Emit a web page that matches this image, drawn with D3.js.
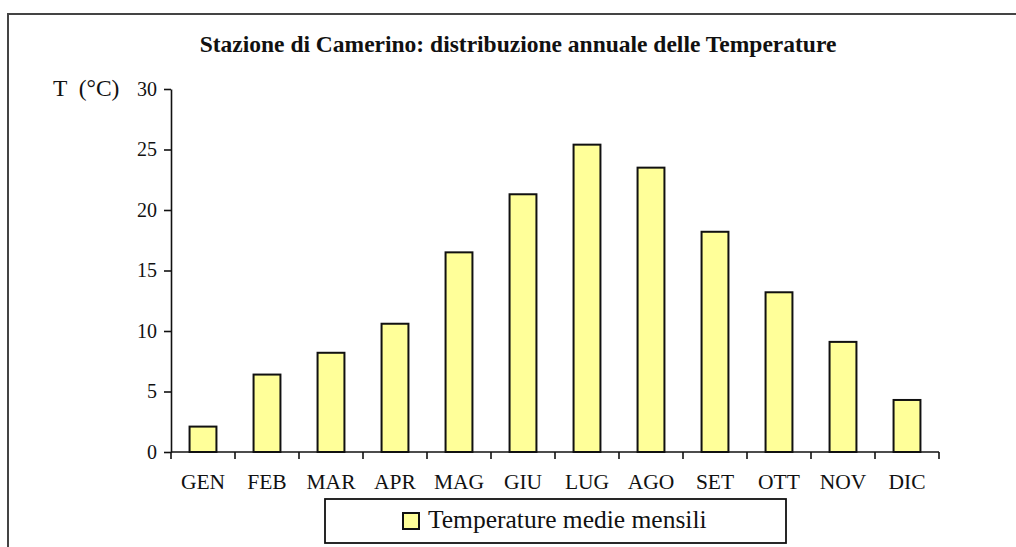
<!DOCTYPE html>
<html>
<head>
  <meta charset="utf-8">
  <script src="https://d3js.org/d3.v7.min.js"></script>
  <style>
    body { margin: 0; background: #fff; }
    text { font-family: "Liberation Serif", "Times New Roman", serif; fill: #111; }
    .title { font-size: 23.5px; font-weight: bold; }
    .axis path, .axis line { stroke: #111; stroke-width: 1.6px; }
    .axis text { font-family: "Liberation Serif", serif; fill: #111; }
    .bar { fill: #ffff99; stroke: #111; stroke-width: 2px; }
  </style>
</head>
<body>
  <script>

    // Monthly data
    var months = ["GEN", "FEB", "MAR", "APR", "MAG", "GIU", "LUG", "AGO", "SET", "OTT", "NOV", "DIC"];
    var temps = [2.1, 6.4, 8.2, 10.6, 16.5, 21.3, 25.4, 23.5, 18.2, 13.2, 9.1, 4.3];
    var yTicks = [0, 5, 10, 15, 20, 25, 30];
    var seriesName = "Temperature medie mensili";
    var titleText = "Stazione di Camerino: distribuzione annuale delle Temperature";

    var margin = {top: 89, left: 171},
        width = 768,
        height = 363;

    var svg = d3.select("body").append("svg")
        .attr("width", 1016)
        .attr("height", 547);

    // outer frame (runs off the right and bottom edge)
    svg.append("rect")
        .attr("x", 8).attr("y", 14)
        .attr("width", 1100).attr("height", 600)
        .attr("fill", "none")
        .attr("stroke", "#444")
        .attr("stroke-width", 2);

    svg.append("text")
        .attr("class", "title")
        .attr("x", 518).attr("y", 52)
        .attr("text-anchor", "middle")
        .text(titleText);

    var g = svg.append("g")
        .attr("transform", "translate(" + margin.left + "," + margin.top + ")");

    var x = d3.scaleBand()
        .domain(months)
        .range([0, width])
        .paddingInner(0.58)
        .paddingOuter(0.29);

    var y = d3.scaleLinear()
        .domain([0, 30])
        .range([height, 0]);

    // bars
    g.selectAll(".bar")
        .data(months)
      .enter().append("rect")
        .attr("class", "bar")
        .attr("x", function(d) { return x(d); })
        .attr("y", function(d, i) { return y(temps[i]); })
        .attr("width", x.bandwidth())
        .attr("height", function(d, i) { return height - y(temps[i]); });

    // y axis
    var yAxis = g.append("g")
        .attr("class", "axis")
        .call(d3.axisLeft(y).tickValues(yTicks).tickSize(7).tickPadding(7).tickSizeOuter(0));
    yAxis.selectAll("text").style("font-size", "20px");

    // x axis, ticks sit between the categories
    var xAxis = g.append("g")
        .attr("class", "axis")
        .attr("transform", "translate(0," + height + ")");
    xAxis.append("line")
        .attr("x1", 0).attr("x2", width);
    var step = x.step();
    xAxis.selectAll(".sep")
        .data(d3.range(months.length + 1))
      .enter().append("line")
        .attr("x1", function(i) { return i * step; })
        .attr("x2", function(i) { return i * step; })
        .attr("y1", 0).attr("y2", 7);
    xAxis.selectAll(".lbl")
        .data(months)
      .enter().append("text")
        .attr("x", function(d) { return x(d) + x.bandwidth() / 2; })
        .attr("y", 37)
        .attr("text-anchor", "middle")
        .style("font-size", "21.5px")
        .text(function(d) { return d; });

    // unit label
    svg.append("text")
        .attr("x", 53).attr("y", 96)
        .style("font-size", "23.5px")
        .style("white-space", "pre")
        .text("T  (\u00b0C)");

    // legend
    var leg = svg.append("g");
    leg.append("rect")
        .attr("x", 325).attr("y", 499)
        .attr("width", 461).attr("height", 44)
        .attr("fill", "#fff")
        .attr("stroke", "#111")
        .attr("stroke-width", 1.8);
    leg.append("rect")
        .attr("class", "bar")
        .attr("x", 403).attr("y", 513)
        .attr("width", 16).attr("height", 16);
    leg.append("text")
        .attr("x", 428).attr("y", 528)
        .style("font-size", "25.5px")
        .text(seriesName);

  </script>
</body>
</html>
